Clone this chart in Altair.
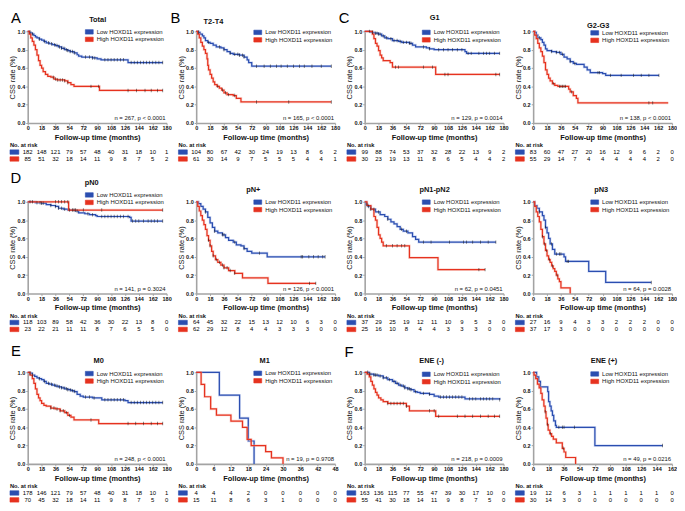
import altair as alt
import pandas as pd

FONT = "Liberation Sans"
BLUE = "#2b4eb0"
RED = "#e6321f"
BLUE_HALO = "#9fb3e8"
RED_HALO = "#f5a89e"
AXIS_GRAY = "#a3a3a3"
LEGEND_LABELS = ["Low HOXD11 expression", "High HOXD11 expression"]

# ---------------- data: (time, survival) steps, censor times, numbers at risk
TOT_LOW_T = [0, 2, 4, 6, 8, 10, 12, 15, 18, 21, 24, 28, 32, 36, 40, 44, 48, 52, 55, 60, 64, 66, 70, 84, 90, 95, 130, 175]
TOT_LOW_S = [1.0, 0.99, 0.98, 0.97, 0.955, 0.94, 0.93, 0.915, 0.905, 0.89, 0.875, 0.865, 0.855, 0.845, 0.83, 0.815, 0.80, 0.79, 0.78, 0.765, 0.745, 0.73, 0.72, 0.71, 0.70, 0.69, 0.66, 0.66]
TOT_LOW_C = [3, 6, 15, 22, 27, 31, 35, 38, 41, 44, 47, 50, 52, 55, 58, 61, 75, 80, 84, 87, 100, 104, 108, 112, 116, 120, 124, 134, 138, 142, 146, 150, 154, 158, 162, 166, 170, 175]
TOT_HIGH_T = [0, 2, 4, 6, 8, 10, 12, 14, 16, 18, 20, 23, 26, 30, 34, 38, 48, 52, 56, 60, 93, 175]
TOT_HIGH_S = [1.0, 0.97, 0.93, 0.89, 0.85, 0.80, 0.74, 0.68, 0.63, 0.60, 0.56, 0.53, 0.51, 0.50, 0.48, 0.47, 0.46, 0.44, 0.42, 0.40, 0.355, 0.355]
TOT_HIGH_C = [33, 36, 39, 42, 45, 48, 52, 82, 92, 130, 141, 152, 160, 168, 175]
TOT_RISK_LOW = [182, 148, 121, 79, 57, 48, 40, 31, 18, 10, 1]
TOT_RISK_HIGH = [85, 51, 32, 18, 14, 11, 9, 8, 7, 5, 2]

T24_LOW_T = [0, 3, 5, 8, 10, 12, 15, 18, 22, 26, 32, 36, 40, 44, 48, 56, 62, 66, 68, 72, 175]
T24_LOW_S = [1.0, 0.99, 0.97, 0.95, 0.93, 0.90, 0.88, 0.87, 0.85, 0.83, 0.82, 0.80, 0.78, 0.76, 0.75, 0.74, 0.72, 0.69, 0.66, 0.62, 0.62]
T24_LOW_C = [3, 16, 30, 36, 44, 50, 54, 56, 60, 62, 78, 88, 96, 104, 110, 118, 126, 134, 140, 150, 162, 175]
T24_HIGH_T = [0, 2, 4, 6, 8, 10, 12, 14, 15, 16, 18, 20, 22, 24, 27, 30, 33, 36, 40, 48, 52, 58, 175]
T24_HIGH_S = [1.0, 0.97, 0.93, 0.88, 0.84, 0.80, 0.76, 0.70, 0.63, 0.58, 0.53, 0.49, 0.45, 0.42, 0.40, 0.38, 0.36, 0.33, 0.31, 0.30, 0.27, 0.23, 0.23]
T24_HIGH_C = [28, 34, 38, 42, 50, 78, 120, 175]
T24_RISK_LOW = [104, 80, 67, 42, 30, 24, 19, 13, 8, 6, 2]
T24_RISK_HIGH = [61, 30, 14, 9, 7, 5, 5, 5, 4, 4, 1]

G1_LOW_T = [0, 8, 12, 18, 22, 26, 30, 36, 44, 48, 58, 62, 66, 80, 84, 90, 130, 132, 175]
G1_LOW_S = [1.0, 0.99, 0.98, 0.97, 0.95, 0.93, 0.92, 0.90, 0.89, 0.88, 0.87, 0.85, 0.83, 0.82, 0.81, 0.80, 0.78, 0.76, 0.76]
G1_LOW_C = [6, 10, 14, 16, 18, 20, 24, 28, 34, 38, 42, 46, 50, 54, 58, 60, 76, 84, 96, 102, 108, 114, 120, 126, 134, 138, 148, 154, 158, 162, 168, 175]
G1_HIGH_T = [0, 10, 12, 14, 16, 18, 20, 22, 24, 33, 36, 92, 175]
G1_HIGH_S = [1.0, 0.97, 0.92, 0.87, 0.84, 0.79, 0.74, 0.71, 0.68, 0.66, 0.61, 0.53, 0.53]
G1_HIGH_C = [40, 44, 76, 88, 104, 108, 170, 175]
G1_RISK_LOW = [99, 88, 74, 53, 37, 32, 28, 22, 13, 9, 2]
G1_RISK_HIGH = [30, 23, 19, 13, 11, 8, 6, 5, 4, 4, 2]

G23_LOW_T = [0, 2, 4, 6, 10, 12, 14, 16, 18, 24, 30, 36, 40, 44, 48, 52, 56, 66, 70, 74, 90, 94, 163]
G23_LOW_S = [1.0, 0.99, 0.96, 0.93, 0.91, 0.88, 0.85, 0.81, 0.79, 0.78, 0.77, 0.75, 0.72, 0.70, 0.67, 0.65, 0.64, 0.61, 0.58, 0.55, 0.54, 0.52, 0.52]
G23_LOW_C = [8, 24, 30, 34, 38, 48, 54, 84, 86, 100, 114, 130, 140, 150, 163]
G23_HIGH_T = [0, 2, 4, 6, 8, 10, 12, 14, 16, 18, 20, 22, 25, 28, 32, 46, 48, 52, 56, 58, 175]
G23_HIGH_S = [1.0, 0.96, 0.92, 0.87, 0.82, 0.78, 0.73, 0.66, 0.58, 0.53, 0.49, 0.46, 0.43, 0.41, 0.40, 0.37, 0.34, 0.30, 0.27, 0.22, 0.22]
G23_HIGH_C = [26, 34, 36, 38, 40, 42, 50, 150, 155]
G23_RISK_LOW = [83, 60, 47, 27, 20, 16, 12, 9, 6, 2, 0]
G23_RISK_HIGH = [55, 29, 14, 7, 4, 4, 4, 4, 4, 2, 0]

PN0_LOW_T = [0, 10, 18, 24, 30, 36, 40, 46, 52, 62, 66, 74, 80, 88, 90, 132, 134, 175]
PN0_LOW_S = [1.0, 0.99, 0.985, 0.97, 0.96, 0.95, 0.93, 0.92, 0.91, 0.90, 0.88, 0.87, 0.86, 0.85, 0.84, 0.83, 0.79, 0.79]
PN0_LOW_C = [3, 6, 12, 16, 18, 20, 30, 36, 40, 44, 48, 54, 58, 60, 64, 78, 84, 96, 100, 104, 108, 112, 116, 120, 124, 130, 136, 140, 144, 150, 156, 160, 164, 168, 175]
PN0_HIGH_T = [0, 53, 175]
PN0_HIGH_S = [1.0, 0.91, 0.91]
PN0_HIGH_C = [36, 40, 44, 48, 52, 62, 72, 96, 175]
PN0_RISK_LOW = [118, 103, 89, 58, 42, 36, 30, 22, 13, 8, 0]
PN0_RISK_HIGH = [23, 22, 21, 11, 11, 8, 7, 6, 5, 5, 0]

PNP_LOW_T = [0, 3, 6, 9, 12, 15, 18, 21, 24, 28, 34, 38, 42, 48, 52, 58, 62, 66, 72, 92, 167]
PNP_LOW_S = [1.0, 0.98, 0.95, 0.92, 0.89, 0.83, 0.77, 0.72, 0.68, 0.66, 0.64, 0.61, 0.58, 0.56, 0.53, 0.52, 0.49, 0.46, 0.44, 0.40, 0.40]
PNP_LOW_C = [12, 24, 34, 36, 50, 62, 82, 136, 138, 146, 152, 158, 164, 167]
PNP_HIGH_T = [0, 2, 4, 6, 8, 10, 12, 14, 16, 18, 20, 22, 25, 28, 32, 36, 42, 50, 60, 93, 155]
PNP_HIGH_S = [1.0, 0.95, 0.90, 0.85, 0.80, 0.75, 0.70, 0.63, 0.58, 0.52, 0.46, 0.41, 0.37, 0.34, 0.31, 0.28, 0.25, 0.22, 0.17, 0.11, 0.11]
PNP_HIGH_C = [16, 18, 22, 26, 30, 34, 36, 40, 44, 50, 147, 155]
PNP_RISK_LOW = [64, 45, 32, 22, 15, 13, 12, 10, 6, 3, 0]
PNP_RISK_HIGH = [62, 29, 12, 8, 4, 4, 3, 3, 3, 0, 0]

PN12_LOW_T = [0, 2, 4, 8, 14, 20, 26, 30, 34, 38, 42, 46, 50, 56, 62, 66, 70, 170]
PN12_LOW_S = [1.0, 0.97, 0.95, 0.92, 0.89, 0.86, 0.84, 0.81, 0.78, 0.76, 0.73, 0.70, 0.68, 0.66, 0.62, 0.59, 0.56, 0.56]
PN12_LOW_C = [3, 5, 8, 12, 18, 30, 48, 54, 76, 86, 110, 128, 132, 140, 150, 160, 170]
PN12_HIGH_T = [0, 3, 8, 12, 14, 16, 18, 20, 22, 24, 58, 95, 156]
PN12_HIGH_S = [1.0, 0.96, 0.92, 0.84, 0.80, 0.72, 0.64, 0.60, 0.56, 0.52, 0.39, 0.26, 0.26]
PN12_HIGH_C = [28, 36, 42, 48, 52, 148, 156]
PN12_RISK_LOW = [37, 29, 25, 19, 12, 11, 10, 9, 5, 3, 0]
PN12_RISK_HIGH = [25, 16, 10, 8, 4, 4, 3, 3, 3, 0, 0]

PN3_LOW_T = [0, 2, 5, 8, 12, 14, 16, 18, 20, 22, 25, 28, 40, 42, 72, 94, 153]
PN3_LOW_S = [1.0, 0.96, 0.93, 0.89, 0.85, 0.80, 0.72, 0.66, 0.60, 0.54, 0.48, 0.43, 0.40, 0.35, 0.24, 0.12, 0.12]
PN3_LOW_C = [8, 16, 24, 30, 34, 36, 44, 46, 153]
PN3_HIGH_T = [0, 2, 4, 6, 8, 10, 12, 14, 16, 18, 20, 22, 24, 26, 28, 30, 32, 34, 36, 48]
PN3_HIGH_S = [1.0, 0.95, 0.89, 0.84, 0.78, 0.70, 0.62, 0.54, 0.47, 0.41, 0.37, 0.34, 0.30, 0.27, 0.24, 0.20, 0.16, 0.13, 0.06, 0.0]
PN3_HIGH_C = [12, 15, 17, 21, 25, 31]
PN3_RISK_LOW = [27, 16, 9, 4, 3, 3, 2, 2, 2, 0, 0]
PN3_RISK_HIGH = [37, 17, 3, 0, 0, 0, 0, 0, 0, 0, 0]

M0_LOW_T = [0, 3, 6, 9, 12, 15, 18, 21, 24, 28, 32, 36, 40, 44, 48, 52, 56, 60, 64, 68, 72, 84, 96, 126, 130, 175]
M0_LOW_S = [1.0, 0.99, 0.97, 0.955, 0.94, 0.93, 0.92, 0.90, 0.88, 0.87, 0.86, 0.85, 0.84, 0.83, 0.82, 0.81, 0.80, 0.79, 0.76, 0.74, 0.73, 0.72, 0.70, 0.69, 0.67, 0.67]
M0_LOW_C = [3, 6, 15, 22, 27, 31, 35, 38, 41, 44, 47, 50, 52, 55, 58, 61, 75, 80, 86, 100, 104, 108, 112, 116, 120, 124, 134, 138, 142, 146, 150, 154, 158, 162, 166, 170, 175]
M0_HIGH_T = [0, 3, 6, 8, 10, 12, 14, 16, 18, 21, 24, 30, 36, 42, 48, 52, 56, 60, 92, 175]
M0_HIGH_S = [1.0, 0.97, 0.93, 0.88, 0.82, 0.76, 0.72, 0.69, 0.66, 0.64, 0.63, 0.61, 0.60, 0.58, 0.56, 0.53, 0.51, 0.48, 0.44, 0.44]
M0_HIGH_C = [30, 34, 38, 42, 46, 50, 54, 82, 130, 140, 150, 160, 168, 175]
M0_RISK_LOW = [178, 146, 121, 79, 57, 48, 40, 31, 18, 10, 1]
M0_RISK_HIGH = [70, 45, 32, 18, 14, 11, 9, 8, 7, 5, 0]

M1_LOW_T = [0, 8, 15, 18, 20]
M1_LOW_S = [1.0, 0.75, 0.5, 0.25, 0.0]
M1_LOW_C = []
M1_HIGH_T = [0, 1.7, 2.9, 5, 7, 12, 16, 17.6, 19, 24, 26, 30]
M1_HIGH_S = [1.0, 0.867, 0.733, 0.6, 0.533, 0.467, 0.4, 0.267, 0.2, 0.133, 0.067, 0.0]
M1_HIGH_C = []
M1_RISK_LOW = [4, 4, 4, 2, 0, 0, 0, 0, 0]
M1_RISK_HIGH = [15, 11, 8, 6, 3, 1, 0, 0, 0]

ENEN_LOW_T = [0, 6, 12, 18, 24, 30, 36, 40, 44, 48, 52, 56, 60, 64, 68, 72, 84, 90, 96, 130, 175]
ENEN_LOW_S = [1.0, 0.98, 0.97, 0.96, 0.94, 0.92, 0.90, 0.88, 0.86, 0.85, 0.83, 0.82, 0.81, 0.79, 0.78, 0.77, 0.76, 0.74, 0.73, 0.71, 0.70]
ENEN_LOW_C = [4, 6, 8, 12, 14, 16, 20, 24, 28, 32, 38, 42, 46, 50, 52, 56, 58, 60, 66, 76, 84, 98, 102, 106, 110, 114, 118, 122, 126, 136, 140, 144, 150, 154, 158, 162, 166, 175]
ENEN_HIGH_T = [0, 3, 6, 8, 10, 12, 14, 16, 18, 21, 24, 30, 54, 58, 92, 175]
ENEN_HIGH_S = [1.0, 0.98, 0.95, 0.90, 0.86, 0.82, 0.78, 0.75, 0.72, 0.70, 0.68, 0.66, 0.63, 0.58, 0.52, 0.52]
ENEN_HIGH_C = [30, 34, 38, 42, 46, 50, 54, 84, 90, 96, 120, 130, 140, 150, 160, 168, 175]
ENEN_RISK_LOW = [163, 136, 115, 77, 55, 47, 39, 30, 17, 10, 0]
ENEN_RISK_HIGH = [55, 41, 30, 18, 14, 11, 9, 8, 7, 5, 0]

ENEP_LOW_T = [0, 4, 6.5, 8.5, 17, 18, 19.5, 21, 22.5, 24, 26, 27, 72, 151]
ENEP_LOW_S = [1.0, 0.95, 0.90, 0.84, 0.79, 0.68, 0.63, 0.58, 0.53, 0.47, 0.42, 0.40, 0.20, 0.20]
ENEP_LOW_C = [30, 34, 36, 48, 151]
ENEP_HIGH_T = [0, 1, 3, 5, 7, 9, 10.5, 12.5, 14, 15, 16.5, 17.5, 19.5, 21.5, 23.5, 27, 34, 36, 38, 49.5]
ENEP_HIGH_S = [1.0, 0.97, 0.93, 0.87, 0.83, 0.77, 0.70, 0.63, 0.57, 0.50, 0.43, 0.37, 0.33, 0.30, 0.27, 0.23, 0.17, 0.13, 0.07, 0.0]
ENEP_HIGH_C = [14, 17, 20, 35]
ENEP_RISK_LOW = [19, 12, 6, 3, 1, 1, 1, 1, 1, 0]
ENEP_RISK_HIGH = [30, 14, 3, 0, 0, 0, 0, 0, 0, 0]

PANELS = [
    dict(letter="A", lx=-12, ly=-13, title="Total", tx=71, ty=-12, gy=0.5, note="n = 267, p < 0.0001", xmax=180, xstep=18,
         low=(TOT_LOW_T, TOT_LOW_S, TOT_LOW_C), high=(TOT_HIGH_T, TOT_HIGH_S, TOT_HIGH_C), risk=(TOT_RISK_LOW, TOT_RISK_HIGH)),
    dict(letter="B", lx=-21, ly=-13, title="T2-T4", tx=17.5, ty=-9, gy=1, note="n = 165, p < 0.0001", xmax=180, xstep=18,
         low=(T24_LOW_T, T24_LOW_S, T24_LOW_C), high=(T24_HIGH_T, T24_HIGH_S, T24_HIGH_C), risk=(T24_RISK_LOW, T24_RISK_HIGH)),
    dict(letter="C", lx=-21, ly=-13, title="G1", tx=71, ty=-14, gy=1, note="n = 129, p = 0.0014", xmax=180, xstep=18,
         low=(G1_LOW_T, G1_LOW_S, G1_LOW_C), high=(G1_HIGH_T, G1_HIGH_S, G1_HIGH_C), risk=(G1_RISK_LOW, G1_RISK_HIGH)),
    dict(letter="", lx=0, ly=0, title="G2-G3", tx=66, ty=-5, gy=1.5, note="n = 138, p < 0.0001", xmax=180, xstep=18,
         low=(G23_LOW_T, G23_LOW_S, G23_LOW_C), high=(G23_HIGH_T, G23_HIGH_S, G23_HIGH_C), risk=(G23_RISK_LOW, G23_RISK_HIGH)),
    dict(letter="D", lx=-12, ly=-24, title="pN0", tx=65, ty=-19, gy=-7, note="n = 141,  p = 0.3024", xmax=180, xstep=18,
         low=(PN0_LOW_T, PN0_LOW_S, PN0_LOW_C), high=(PN0_HIGH_T, PN0_HIGH_S, PN0_HIGH_C), risk=(PN0_RISK_LOW, PN0_RISK_HIGH)),
    dict(letter="", lx=0, ly=0, title="pN+", tx=58, ty=-12, gy=0.3, note="n = 126, p < 0.0001", xmax=180, xstep=18,
         low=(PNP_LOW_T, PNP_LOW_S, PNP_LOW_C), high=(PNP_HIGH_T, PNP_HIGH_S, PNP_HIGH_C), risk=(PNP_RISK_LOW, PNP_RISK_HIGH)),
    dict(letter="", lx=0, ly=0, title="pN1-pN2", tx=71, ty=-12, gy=0.3, note="n = 62, p = 0.0451", xmax=180, xstep=18,
         low=(PN12_LOW_T, PN12_LOW_S, PN12_LOW_C), high=(PN12_HIGH_T, PN12_HIGH_S, PN12_HIGH_C), risk=(PN12_RISK_LOW, PN12_RISK_HIGH)),
    dict(letter="", lx=0, ly=0, title="pN3", tx=69, ty=-12, gy=0.3, note="n = 64, p = 0.0028", xmax=180, xstep=18,
         low=(PN3_LOW_T, PN3_LOW_S, PN3_LOW_C), high=(PN3_HIGH_T, PN3_HIGH_S, PN3_HIGH_C), risk=(PN3_RISK_LOW, PN3_RISK_HIGH)),
    dict(letter="E", lx=-12, ly=-21.5, title="M0", tx=72, ty=-11.5, gy=1.3, note="n = 248, p < 0.0001", xmax=180, xstep=18,
         low=(M0_LOW_T, M0_LOW_S, M0_LOW_C), high=(M0_HIGH_T, M0_HIGH_S, M0_HIGH_C), risk=(M0_RISK_LOW, M0_RISK_HIGH)),
    dict(letter="", lx=0, ly=0, title="M1", tx=69.5, ty=-11, gy=1, note="n = 19, p = 0.9708", xmax=48, xstep=6,
         low=(M1_LOW_T, M1_LOW_S, M1_LOW_C), high=(M1_HIGH_T, M1_HIGH_S, M1_HIGH_C), risk=(M1_RISK_LOW, M1_RISK_HIGH)),
    dict(letter="F", lx=-16, ly=-21, title="ENE (-)", tx=68, ty=-11.5, gy=2, note="n = 218, p = 0.0009", xmax=180, xstep=18,
         low=(ENEN_LOW_T, ENEN_LOW_S, ENEN_LOW_C), high=(ENEN_HIGH_T, ENEN_HIGH_S, ENEN_HIGH_C), risk=(ENEN_RISK_LOW, ENEN_RISK_HIGH)),
    dict(letter="", lx=0, ly=0, title="ENE (+)", tx=72, ty=-11.5, gy=1.7, note="n = 49, p = 0.0216", xmax=162, xstep=18,
         low=(ENEP_LOW_T, ENEP_LOW_S, ENEP_LOW_C), high=(ENEP_HIGH_T, ENEP_HIGH_S, ENEP_HIGH_C), risk=(ENEP_RISK_LOW, ENEP_RISK_HIGH)),
]

W, H = 141, 93
RECT = "M -1 -0.56 L 1 -0.56 L 1 0.56 L -1 0.56 Z"
RECT2 = "M -1 -0.5 L 1 -0.5 L 1 0.5 L -1 0.5 Z"
ONE = pd.DataFrame({"k": [0]})


def step_at(ts, ss, t):
    v = ss[0]
    for ti, si in zip(ts, ss):
        if ti <= t:
            v = si
        else:
            break
    return v


def const_text(text, x, y, size, weight="normal", align="left", style="normal", color="#111"):
    return alt.Chart(ONE).mark_text(
        text=text, font=FONT, fontSize=size, fontWeight=weight, align=align,
        baseline="middle", fontStyle=style, color=color
    ).encode(x=alt.value(x), y=alt.value(y))


def const_sym(x, y, color, size, shape):
    return alt.Chart(ONE).mark_point(
        shape=shape, filled=True, color=color, size=size, opacity=1, strokeWidth=0.6, stroke=color
    ).encode(x=alt.value(x), y=alt.value(y))


def make_panel(p):
    ticks = list(range(0, p["xmax"] + 1, p["xstep"]))
    X = alt.X("t:Q", scale=alt.Scale(domain=[0, p["xmax"]], nice=False, zero=True),
              axis=alt.Axis(values=ticks, title="Follow-up time (months)"))
    Y = alt.Y("s:Q", scale=alt.Scale(domain=[0, 1], nice=False),
              axis=alt.Axis(values=[0, 0.2, 0.4, 0.6, 0.8, 1.0], format=".1f", title="CSS rate (%)"))
    layers = []
    series = [(p["low"], BLUE, BLUE_HALO), (p["high"], RED, RED_HALO)]
    for (ts, ss, cs), col, halo in series:
        df = pd.DataFrame({"t": ts, "s": ss})
        layers.append(alt.Chart(df).mark_line(interpolate="step-after", color=halo, strokeWidth=2.6, opacity=0.45)
                      .encode(x=X, y=Y))
        layers.append(alt.Chart(df).mark_line(interpolate="step-after", color=col, strokeWidth=1.25)
                      .encode(x=X, y=Y))
    for (ts, ss, cs), col, halo in series:
        if cs:
            cdf = pd.DataFrame({"t": cs, "s": [step_at(ts, ss, c) for c in cs]})
            layers.append(alt.Chart(cdf).mark_tick(orient="vertical", color="#111", size=3.5, thickness=0.7)
                          .encode(x=X, y=Y))
    # legend
    gy = p["gy"]
    layers.append(const_sym(62.5, gy, BLUE, 64, RECT))
    layers.append(const_sym(62.5, gy + 7.6, RED, 64, RECT))
    layers.append(const_text(LEGEND_LABELS[0], 70, gy, 6))
    layers.append(const_text(LEGEND_LABELS[1], 70, gy + 7.6, 6))
    # title, note, letter
    layers.append(const_text(p["title"], p["tx"], p["ty"], 7.5, weight="bold", align="center"))
    layers.append(const_text(p["note"], W - 1, 88, 6, align="right"))
    if p["letter"]:
        layers.append(const_text(p["letter"], p["lx"], p["ly"], 15, align="center", color="#000"))
    # numbers at risk
    layers.append(const_text("No. at risk", -18, H + 22.5, 5.8, weight="bold"))
    layers.append(const_sym(-13.5, H + 29.5, BLUE, 81, RECT2))
    layers.append(const_sym(-13.5, H + 36.5, RED, 81, RECT2))
    rl, rh = p["risk"]
    for vals, dy in ((rl, 29.5), (rh, 36.5)):
        rdf = pd.DataFrame({"t": ticks[:len(vals)], "n": vals})
        layers.append(alt.Chart(rdf).mark_text(font=FONT, fontSize=6, color="#000", baseline="middle")
                      .encode(x=X, y=alt.value(H + dy), text="n:Q"))
    return alt.layer(*layers).properties(width=W, height=H)


panels = [make_panel(p) for p in PANELS]

chart = alt.concat(
    *panels, columns=4, spacing={"row": 80, "column": 30}, bounds="flush", padding=0
).configure(
    padding=0
).configure_view(
    stroke=None
).configure_axis(
    labelFont=FONT, labelFontSize=5.6, labelColor="#111", labelFontWeight="bold",
    labelOverlap=False, labelFlush=False,
    titleFont=FONT, titleFontSize=7.5, titleFontWeight="bold", titleColor="#111",
    domainColor=AXIS_GRAY, domainWidth=1.6, tickColor=AXIS_GRAY, tickSize=2, tickWidth=1,
    grid=False, labelPadding=1, titlePadding=2
).configure_axisY(
    titleFontWeight="normal", titlePadding=0.5
)

chart.save("out.html", embed_options={"renderer": "svg", "actions": False})
